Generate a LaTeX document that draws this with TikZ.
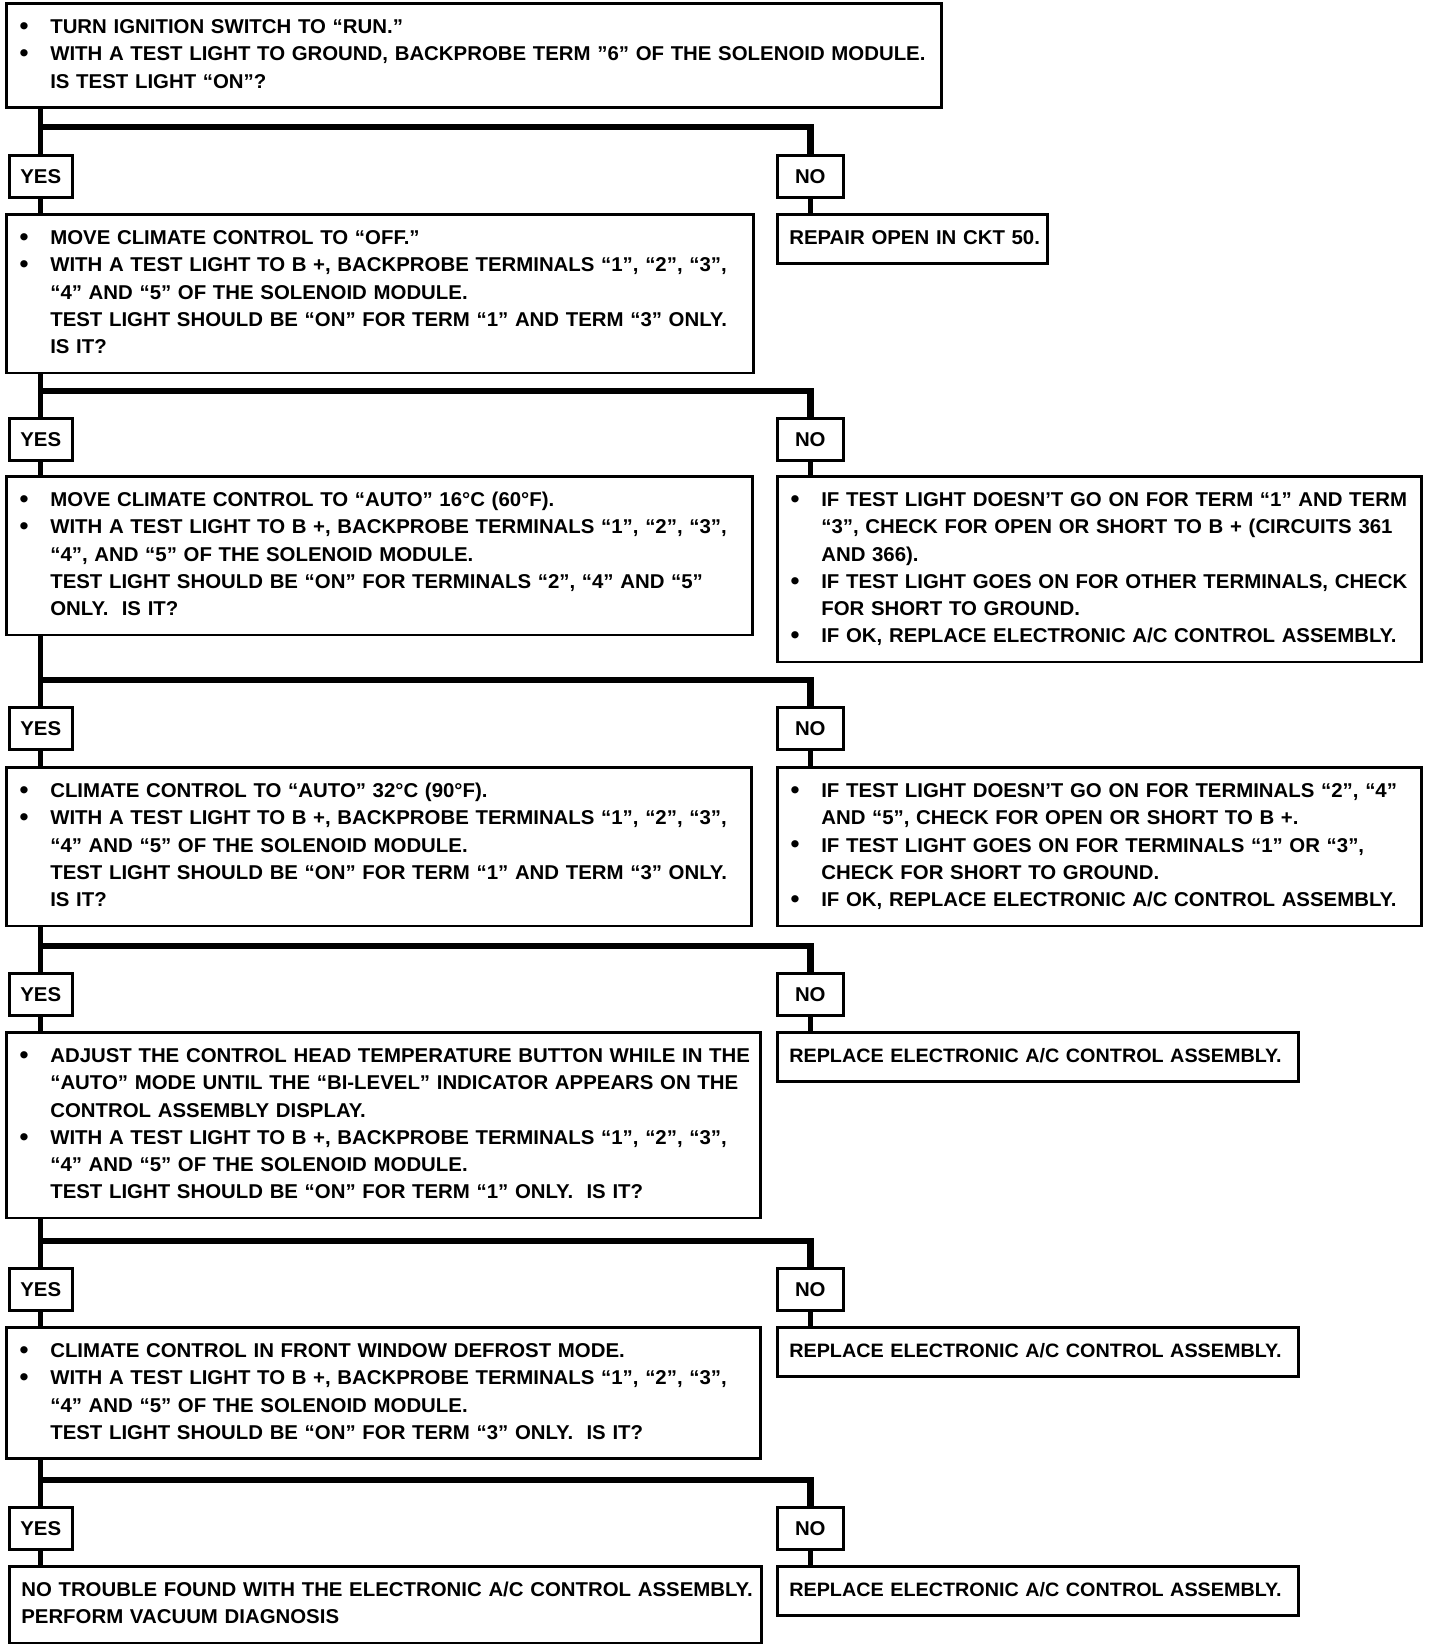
\documentclass[tikz,border=0pt]{standalone}
\usepackage{fontspec}
\setmainfont{Liberation Sans}[FakeStretch=1.02]
\usepackage{tikz}
\usetikzlibrary{positioning,calc}

\newcommand\bul{\leavevmode\llap{\makebox[16pt][l]{\hspace{0.6pt}\raisebox{-0.4pt}{\fontsize{12.5}{12}\selectfont\textbullet}}}}
\newcommand\nind{\rightskip=0pt plus 1fil minus 30pt\hyphenpenalty=10000 }
\newcommand\ind{\nind\leftskip=16pt }
\newcommand\eop{\strut\endgraf}

\begin{document}
\begin{tikzpicture}[x=0.5pt,y=-0.5pt]
\tikzstyle{Q}=[draw,line width=1.3pt,anchor=north west,align=left,inner xsep=6pt,inner ysep=5.5pt,font=\fontsize{10}{13.65}\selectfont\bfseries,execute at begin node=\strut]
\tikzstyle{R}=[Q,font=\fontsize{9.7}{13.65}\selectfont\bfseries]
\tikzstyle{YN}=[draw,line width=1.3pt,anchor=north west,minimum width=31.5pt,minimum height=21pt,inner sep=0pt,font=\fontsize{10}{12}\selectfont\bfseries]
\tikzstyle{ln}=[line width=2.6pt]
\tikzstyle{bar}=[line width=3.2pt]
\useasboundingbox (0,0) rectangle (1440,1644);
% questions
\node[Q,text width=455.5pt] (q1) at (5,2) {\ind\bul TURN IGNITION SWITCH TO “RUN.”\\\bul WITH A TEST LIGHT TO GROUND, BACKPROBE TERM ”6” OF THE SOLENOID MODULE.\\IS TEST LIGHT “ON”?\eop};
\node[Q,text width=361.5pt] (q2) at (5,213) {\ind\bul MOVE CLIMATE CONTROL TO “OFF.”\\\bul WITH A TEST LIGHT TO B +, BACKPROBE TERMINALS “1”, “2”, “3”,\\“4” AND “5” OF THE SOLENOID MODULE.\\TEST LIGHT SHOULD BE “ON” FOR TERM “1” AND TERM “3” ONLY.\\IS IT?\eop};
\node[Q,text width=361pt] (q3) at (5,475) {\ind\bul MOVE CLIMATE CONTROL TO “AUTO” 16°C (60°F).\\\bul WITH A TEST LIGHT TO B +, BACKPROBE TERMINALS “1”, “2”, “3”,\\“4”, AND “5” OF THE SOLENOID MODULE.\\TEST LIGHT SHOULD BE “ON” FOR TERMINALS “2”, “4” AND “5”\\ONLY.\ \ IS IT?\eop};
\node[Q,text width=360.5pt] (q4) at (5,766) {\ind\bul CLIMATE CONTROL TO “AUTO” 32°C (90°F).\\\bul WITH A TEST LIGHT TO B +, BACKPROBE TERMINALS “1”, “2”, “3”,\\“4” AND “5” OF THE SOLENOID MODULE.\\TEST LIGHT SHOULD BE “ON” FOR TERM “1” AND TERM “3” ONLY.\\IS IT?\eop};
\node[Q,text width=365pt] (q5) at (5,1031) {\ind\bul ADJUST THE CONTROL HEAD TEMPERATURE BUTTON WHILE IN THE\\“AUTO” MODE UNTIL THE “BI-LEVEL” INDICATOR APPEARS ON THE\\CONTROL ASSEMBLY DISPLAY.\\\bul WITH A TEST LIGHT TO B +, BACKPROBE TERMINALS “1”, “2”, “3”,\\“4” AND “5” OF THE SOLENOID MODULE.\\TEST LIGHT SHOULD BE “ON” FOR TERM “1” ONLY.\ \ IS IT?\eop};
\node[Q,text width=365pt] (q6) at (5,1326) {\ind\bul CLIMATE CONTROL IN FRONT WINDOW DEFROST MODE.\\\bul WITH A TEST LIGHT TO B +, BACKPROBE TERMINALS “1”, “2”, “3”,\\“4” AND “5” OF THE SOLENOID MODULE.\\TEST LIGHT SHOULD BE “ON” FOR TERM “3” ONLY.\ \ IS IT?\eop};
\node[Q,text width=364pt] (q7) at (8,1565) {\nind NO TROUBLE FOUND WITH THE ELECTRONIC A/C CONTROL ASSEMBLY.\\PERFORM VACUUM DIAGNOSIS\eop};
% repairs
\node[Q,text width=123pt] (r1) at (776,213) {\nind REPAIR OPEN IN CKT 50.\eop};
\node[Q,text width=310pt] (r3) at (776,475) {\ind\bul IF TEST LIGHT DOESN’T GO ON FOR TERM “1” AND TERM\\“3”, CHECK FOR OPEN OR SHORT TO B + (CIRCUITS 361\\AND 366).\\\bul IF TEST LIGHT GOES ON FOR OTHER TERMINALS, CHECK\\FOR SHORT TO GROUND.\\\bul IF OK, REPLACE ELECTRONIC A/C CONTROL ASSEMBLY.\eop};
\node[Q,text width=310pt] (r4) at (776,766) {\ind\bul IF TEST LIGHT DOESN’T GO ON FOR TERMINALS “2”, “4”\\AND “5”, CHECK FOR OPEN OR SHORT TO B +.\\\bul IF TEST LIGHT GOES ON FOR TERMINALS “1” OR “3”,\\CHECK FOR SHORT TO GROUND.\\\bul IF OK, REPLACE ELECTRONIC A/C CONTROL ASSEMBLY.\eop};
\node[R,text width=248.5pt] (r5) at (776,1031) {\nind REPLACE ELECTRONIC A/C CONTROL ASSEMBLY.\eop};
\node[R,text width=248.5pt] (r6) at (776,1326) {\nind REPLACE ELECTRONIC A/C CONTROL ASSEMBLY.\eop};
\node[R,text width=248.5pt] (r7) at (776,1565) {\nind REPLACE ELECTRONIC A/C CONTROL ASSEMBLY.\eop};
% yes / no
\node[YN] (y1) at (8,154) {YES}; \node[YN,minimum width=33pt] (n1) at (776,154) {NO};
\node[YN] (y2) at (8,417) {YES}; \node[YN,minimum width=33pt] (n2) at (776,417) {NO};
\node[YN] (y3) at (8,706) {YES}; \node[YN,minimum width=33pt] (n3) at (776,706) {NO};
\node[YN] (y4) at (8,972) {YES}; \node[YN,minimum width=33pt] (n4) at (776,972) {NO};
\node[YN] (y5) at (8,1267) {YES}; \node[YN,minimum width=33pt] (n5) at (776,1267) {NO};
\node[YN] (y6) at (8,1506) {YES}; \node[YN,minimum width=33pt] (n6) at (776,1506) {NO};
% lines
\draw[ln] (q1.south -| y1.north)--(y1.north); \draw[bar] ([yshift=13.5pt]y1.north) -| (n1.north);
\draw[ln] (y1.south)--(y1.south |- q2.north); \draw[ln] (n1.south)--(n1.south |- r1.north);
\draw[ln] (q2.south -| y2.north)--(y2.north); \draw[bar] ([yshift=13pt]y2.north) -| (n2.north);
\draw[ln] (y2.south)--(y2.south |- q3.north); \draw[ln] (n2.south)--(n2.south |- r3.north);
\draw[ln] (q3.south -| y3.north)--(y3.north); \draw[bar] ([yshift=13pt]y3.north) -| (n3.north);
\draw[ln] (y3.south)--(y3.south |- q4.north); \draw[ln] (n3.south)--(n3.south |- r4.north);
\draw[ln] (q4.south -| y4.north)--(y4.north); \draw[bar] ([yshift=13pt]y4.north) -| (n4.north);
\draw[ln] (y4.south)--(y4.south |- q5.north); \draw[ln] (n4.south)--(n4.south |- r5.north);
\draw[ln] (q5.south -| y5.north)--(y5.north); \draw[bar] ([yshift=13pt]y5.north) -| (n5.north);
\draw[ln] (y5.south)--(y5.south |- q6.north); \draw[ln] (n5.south)--(n5.south |- r6.north);
\draw[ln] (q6.south -| y6.north)--(y6.north); \draw[bar] ([yshift=13pt]y6.north) -| (n6.north);
\draw[ln] (y6.south)--(y6.south |- q7.north); \draw[ln] (n6.south)--(n6.south |- r7.north);
\end{tikzpicture}
\end{document}
